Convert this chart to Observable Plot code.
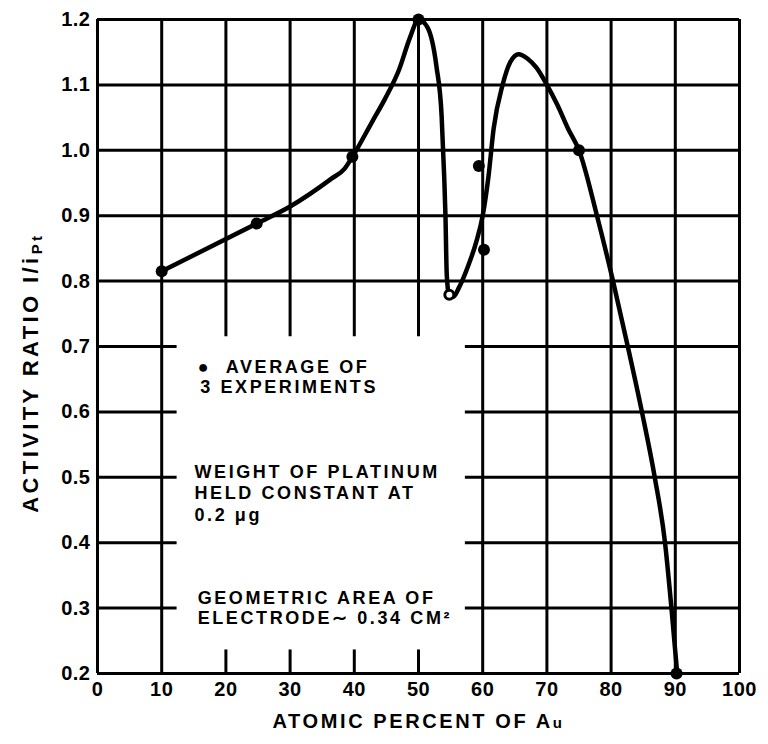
<!DOCTYPE html>
<html>
<head>
<meta charset="utf-8">
<script src="https://cdn.jsdelivr.net/npm/d3@7"></script>
<script src="https://cdn.jsdelivr.net/npm/@observablehq/plot@0.6"></script>
<style>
  html, body { margin: 0; padding: 0; background: white; }
  svg text { fill: black; }
  .ann text { letter-spacing: 2.6px; }
</style>
</head>
<body>
<div id="chart"></div>
<script>
// ---- data ----
const xTicks = [0, 10, 20, 30, 40, 50, 60, 70, 80, 90, 100];
const yTicks = [0.2, 0.3, 0.4, 0.5, 0.6, 0.7, 0.8, 0.9, 1.0, 1.1, 1.2];

// measured points (average of 3 experiments)
const dotX = [10, 24.8, 39.7, 50, 59.4, 60.2, 75, 90.2];
const dotY = [0.815, 0.888, 0.99, 1.2, 0.976, 0.848, 1.0, 0.2];
const openX = [54.8];
const openY = [0.779];

// hand-drawn smooth curve
const curveX = [10, 24.8, 30, 36.5, 38.5, 39.7, 42.8, 44.8, 47, 48.7, 50, 51.4, 52.8, 53.6, 54.0, 54.2, 54.4, 54.8, 55.4, 56.3, 57.8, 59.0, 60.0, 60.9, 61.7, 63.1, 64.3, 65.6, 67, 68.4, 70, 71.6, 73.3, 75, 77.8, 80.3, 82.6, 84.8, 86.8, 88.4, 89.4, 90.3];
const curveY = [0.815, 0.888, 0.914, 0.957, 0.972, 0.99, 1.044, 1.079, 1.124, 1.173, 1.2, 1.188, 1.128, 1.053, 0.96, 0.9, 0.81, 0.777, 0.776, 0.79, 0.825, 0.86, 0.9, 0.96, 1.033, 1.1, 1.135, 1.147, 1.14, 1.126, 1.1, 1.07, 1.033, 1.0, 0.9, 0.8, 0.7, 0.6, 0.5, 0.4, 0.3, 0.2];

// grid: vertical segments (x, from y1 to y2)
const vGridX  = [0, 10, 20, 30, 40, 50, 60, 70, 80, 90, 100, 20, 30, 40, 50];
const vGridY1 = [0.2, 0.2, 0.715, 0.715, 0.715, 0.715, 0.2, 0.2, 0.2, 0.2, 0.2, 0.2, 0.2, 0.2, 0.2];
const vGridY2 = [1.2, 1.2, 1.2, 1.2, 1.2, 1.2, 1.2, 1.2, 1.2, 1.2, 1.2, 0.236, 0.236, 0.236, 0.236];
// grid: horizontal segments (y, from x1 to x2)
const hGridY  = [1.2, 1.1, 1.0, 0.9, 0.8, 0.2, 0.7, 0.6, 0.5, 0.4, 0.3, 0.7, 0.6, 0.5, 0.4, 0.3];
const hGridX1 = [0, 0, 0, 0, 0, 0, 0, 0, 0, 0, 0, 57.3, 57.3, 57.3, 57.3, 57.3];
const hGridX2 = [100, 100, 100, 100, 100, 100, 12.4, 12.4, 12.4, 12.4, 12.4, 100, 100, 100, 100, 100];

const xTitle = "ATOMIC PERCENT OF Au";
const yTitle = "ACTIVITY RATIO I/iPt";
const legendLines = ["\u25CF  AVERAGE OF", "3 EXPERIMENTS"];
const weightLines = ["WEIGHT OF PLATINUM", "HELD CONSTANT AT", "0.2 \u03BCg"];
const areaLines = ["GEOMETRIC AREA OF", "ELECTRODE\u223C 0.34 CM\u00B2"];

// ---- build tables ----
const curve = curveX.map((x, i) => ({x, y: curveY[i]}));
const dots = dotX.map((x, i) => ({x, y: dotY[i]}));
const opens = openX.map((x, i) => ({x, y: openY[i]}));
const vGrid = vGridX.map((x, i) => ({x, y1: vGridY1[i], y2: vGridY2[i]}));
const hGrid = hGridY.map((y, i) => ({y, x1: hGridX1[i], x2: hGridX2[i]}));

const annFont = {fontSize: 18, fontWeight: "bold", textAnchor: "start", fill: "black", className: "ann"};

const chart = Plot.plot({
  width: 768,
  height: 744,
  marginLeft: 97,
  marginRight: 29,
  marginTop: 19,
  marginBottom: 71,
  x: {domain: [0, 100]},
  y: {domain: [0.2, 1.2]},
  style: {fontFamily: "'Liberation Sans', Arial, sans-serif", background: "white", color: "black"},
  marks: [
    Plot.ruleX(vGrid, {x: "x", y1: "y1", y2: "y2", stroke: "black", strokeWidth: 3}),
    Plot.ruleY(hGrid, {y: "y", x1: "x1", x2: "x2", stroke: "black", strokeWidth: 3}),
    Plot.line(curve, {x: "x", y: "y", curve: "monotone-x", stroke: "black", strokeWidth: 4.5}),
    Plot.dot(dots, {x: "x", y: "y", r: 6, fill: "black"}),
    Plot.dot(opens, {x: "x", y: "y", r: 4.5, fill: "white", stroke: "black", strokeWidth: 3}),
    Plot.axisX({ticks: xTicks, tickSize: 0, tickPadding: 8, fontSize: 20, fontWeight: "bold", label: null}),
    Plot.axisY({ticks: yTicks, tickSize: 0, tickPadding: 7, tickFormat: d => d.toFixed(1), fontSize: 20, fontWeight: "bold", label: null}),
    Plot.text([xTitle], {frameAnchor: "bottom", dy: 54, fontSize: 20, fontWeight: "bold", className: "xtitle"}),
    Plot.text([yTitle], {frameAnchor: "left", y: 0.66, dx: -67, rotate: -90, textAnchor: "middle", fontSize: 22, fontWeight: "bold", className: "ytitle"}),
    Plot.text([legendLines[0]], {...annFont, x: 15.6, y: 0.668}),
    Plot.text([legendLines[1]], {...annFont, x: 16.0, y: 0.637}),
    Plot.text([weightLines[0]], {...annFont, x: 15.1, y: 0.507}),
    Plot.text([weightLines[1]], {...annFont, x: 15.1, y: 0.475}),
    Plot.text([weightLines[2]], {...annFont, x: 15.1, y: 0.442}),
    Plot.text([areaLines[0]], {...annFont, x: 15.6, y: 0.315}),
    Plot.text([areaLines[1]], {...annFont, x: 15.6, y: 0.284})
  ]
});

document.getElementById("chart").appendChild(chart);

// letter spacing and small-script details
d3.select(chart).selectAll(".xtitle text").style("letter-spacing", "2.6px").each(function() {
  const t = d3.select(this);
  if (t.text() === xTitle) {
    t.text("ATOMIC PERCENT OF A");
    t.append("tspan").attr("font-size", 15).text("u");
  }
});
d3.select(chart).selectAll(".ytitle text").style("letter-spacing", "3.4px").each(function() {
  const t = d3.select(this);
  if (t.text() === yTitle) {
    t.text("ACTIVITY RATIO I/i");
    t.append("tspan").attr("font-size", 15).attr("dy", "0.3em").text("Pt");
  }
});
d3.select(chart).selectAll("g[aria-label='x-axis tick label'] text, g[aria-label='y-axis tick label'] text").style("letter-spacing", "0.5px");
</script>
</body>
</html>
